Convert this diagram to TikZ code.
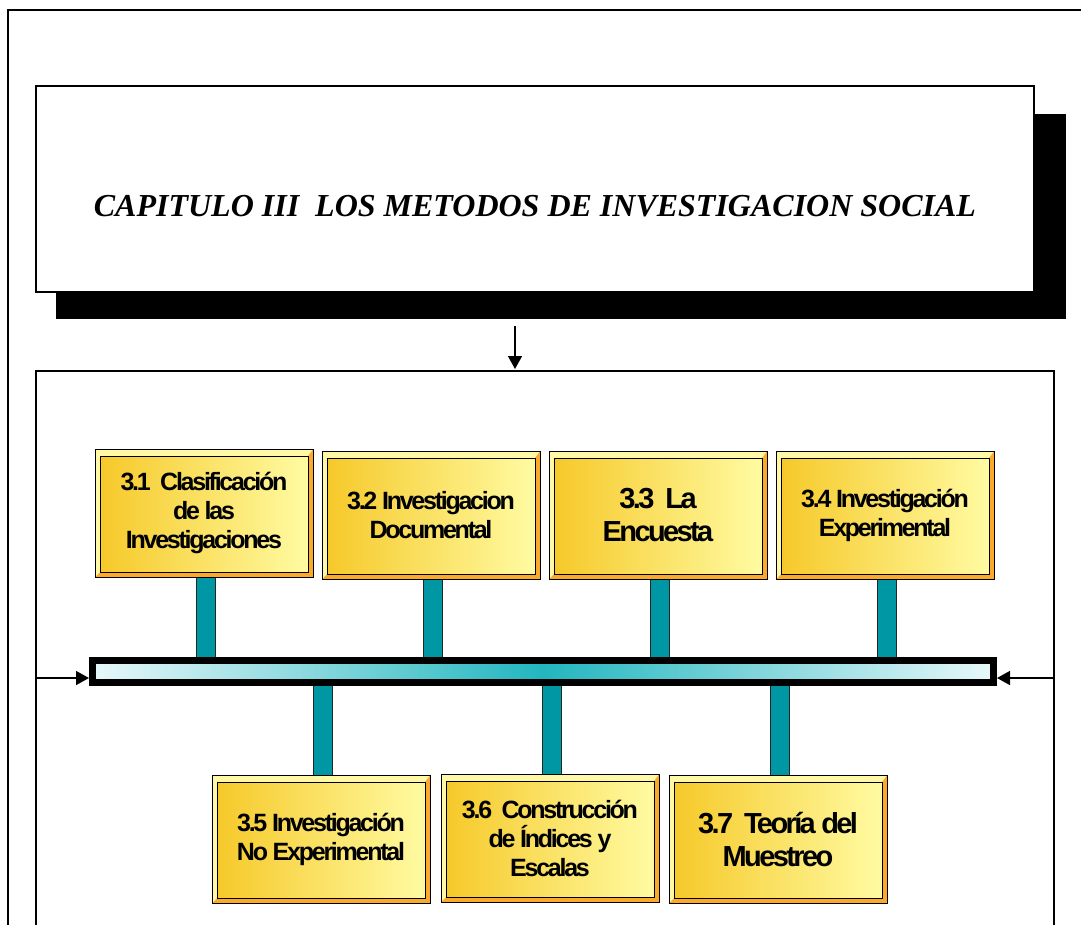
\documentclass[tikz,border=0pt]{standalone}
\usepackage{fontspec}
\setmainfont{Liberation Serif}
\newfontfamily\boxfont[LetterSpace=-9]{Liberation Sans}
\usetikzlibrary{arrows.meta}

\definecolor{stemteal}{HTML}{0097A5}
\definecolor{bevelorange}{HTML}{FBA92A}
\definecolor{bevellight}{HTML}{FFF8A6}
\definecolor{facegold}{HTML}{F6C92A}
\definecolor{facelight}{HTML}{FFFBA2}
\definecolor{barlight}{HTML}{E8F8FA}
\definecolor{barteal}{HTML}{22B6BF}

\tikzset{
  frame/.style={draw=black, line width=2pt},
  topic/.style={minimum width=218pt, minimum height=128pt, inner sep=0pt,
    draw=black, line width=1pt, fill=bevelorange, align=center,
    font=\boxfont\bfseries\fontsize{25}{29}\selectfont,
    path picture={
      \fill[bevellight] (path picture bounding box.north west)
        -- (path picture bounding box.north east)
        -- ([xshift=-5pt,yshift=-7pt]path picture bounding box.north east)
        -- ([xshift=5pt,yshift=-7pt]path picture bounding box.north west)
        -- ([xshift=5pt,yshift=5pt]path picture bounding box.south west)
        -- (path picture bounding box.south west) -- cycle;
      \shade[left color=facegold, right color=facelight, draw=black, line width=0.8pt]
        ([xshift=5pt,yshift=-7pt]path picture bounding box.north west)
        rectangle ([xshift=-5pt,yshift=5pt]path picture bounding box.south east);
    }},
  bigtopic/.style={topic, font=\boxfont\bfseries\fontsize{29}{33}\selectfont},
  stem/.style={draw=black!85, line width=1.2pt, double=stemteal, double distance=18.5pt},
  tip/.style={-{Triangle[length=13pt,width=14pt]}, line width=1.5pt}
}

\begin{document}
\begin{tikzpicture}[x=1pt,y=-1pt]
  \useasboundingbox (0,0) rectangle (1081,924);
  \clip (0,0) rectangle (1081,924);

  % frames
  \draw[frame] (8,10) rectangle (1110,960);
  \draw[frame] (36,371) rectangle (1054,960);

  % title with its shadow
  \fill[black] (56,114) rectangle (1066,319);
  \node[draw=black, line width=1.5pt, fill=white, minimum width=998pt, minimum height=206pt]
    (title) at (535,189) {};
  \node[font=\bfseries\itshape\fontsize{32}{37}\selectfont] (titletext) at (535,206)
    {CAPITULO III\ \ LOS METODOS DE INVESTIGACION SOCIAL};

  \coordinate (dn) at (515,326);
  \coordinate (fr) at (515,369);
  \draw[tip] (dn) -- (fr);

  % bar
  \node[draw=black, line width=7pt, minimum width=901pt, minimum height=22pt, inner sep=0pt,
    left color=barlight, right color=barlight, middle color=barteal] (bar) at (543,671.5) {};

  % top row
  \node[topic] (b1) at (204,513) {3.1\ \ Clasificación\\de las\\Investigaciones};
  \node[topic] (b2) at (431,515) {3.2 Investigacion\\Documental};
  \node[bigtopic] (b3) at (658,515) {3.3\ \ La\\Encuesta};
  \node[topic] (b4) at (885,515) {3.4 Investigación\\Experimental};

  % bottom row
  \node[topic] (b5) at (321,839) {3.5 Investigación\\No Experimental};
  \node[topic] (b6) at (550,838) {3.6\ \ Construcción\\de Índices y\\Escalas};
  \node[bigtopic] (b7) at (778,839) {3.7\ \ Teoría del\\Muestreo};

  % stems
  \foreach \b in {b1,b2,b3,b4}
    \draw[stem] ([xshift=2pt]\b.south) -- ([xshift=2pt]\b.south |- bar.north);
  \foreach \b in {b5,b6,b7}
    \draw[stem] ([xshift=2pt]\b.north) -- ([xshift=2pt]\b.north |- bar.south);

  % side arrows
  \coordinate (lin) at (36,678);
  \coordinate (rin) at (1054,678);
  \draw[tip] (lin) -- (lin -| bar.west);
  \draw[tip] (rin) -- (rin -| bar.east);
\end{tikzpicture}
\end{document}
